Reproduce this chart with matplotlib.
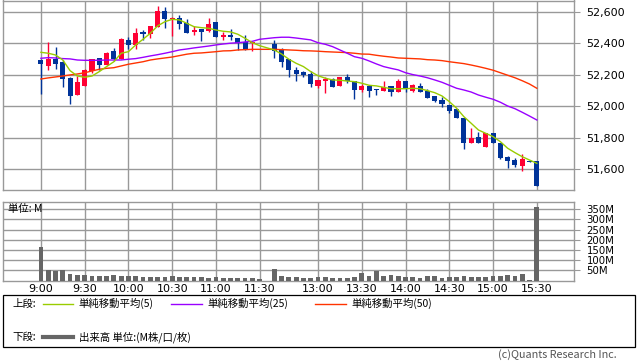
import numpy as np
import matplotlib
matplotlib.use('Agg')
import matplotlib.pyplot as plt
from matplotlib.lines import Line2D
from matplotlib.patches import Rectangle

plt.rcParams['font.family'] = ['Noto Sans CJK JP', 'DejaVu Sans']

# 5分足 (index 30 = 11:30 前引け, 31 = 昼休みの空き枠)
opens = [52294, 52258, 52299, 52282, 52180, 52071, 52131, 52224, 52305, 52264,
         52352, 52301, 52422, 52388, 52473, 52462, 52504, 52606, 52555, 52560,
         52532, 52475, 52492, 52479, 52536, 52439, 52455, 52436, 52407, 52403,
         None, None,
         52396, 52358, 52301, 52231, 52220, 52205, 52131, 52162, 52173, 52131,
         52184, 52160, 52103, 52131, 52112, 52099, 52129, 52092, 52160, 52099,
         52129, 52097, 52065, 52041, 52009, 51980, 51927, 51767, 51804, 51740,
         51830, 51767, 51674, 51657, 51621, 51653, 51651]
highs = [52300, 52409, 52377, 52294, 52188, 52192, 52237, 52299, 52305, 52345,
         52373, 52436, 52439, 52500, 52485, 52511, 52638, 52634, 52566, 52583,
         52558, 52511, 52492, 52562, 52536, 52475, 52492, 52436, 52455, 52411,
         None, None,
         52422, 52369, 52301, 52248, 52226, 52222, 52167, 52184, 52180, 52186,
         52205, 52160, 52141, 52131, 52112, 52160, 52129, 52173, 52160, 52141,
         52146, 52109, 52065, 52057, 52009, 51980, 51927, 51859, 51836, 51830,
         51830, 51767, 51683, 51668, 51696, 51655, 51651]
lows = [52078, 52231, 52239, 52124, 52016, 52068, 52129, 52211, 52231, 52260,
        52288, 52301, 52364, 52364, 52422, 52436, 52504, 52500, 52449, 52494,
        52468, 52455, 52417, 52473, 52443, 52424, 52424, 52358, 52360, 52354,
        None, None,
        52305, 52252, 52188, 52162, 52184, 52124, 52114, 52082, 52124, 52131,
        52146, 52046, 52090, 52057, 52069, 52099, 52067, 52092, 52092, 52088,
        52092, 52054, 52029, 51997, 51959, 51923, 51725, 51764, 51764, 51738,
        51764, 51664, 51608, 51615, 51589, 51645, 51494]
closes = [52269, 52303, 52269, 52173, 52067, 52154, 52231, 52299, 52264, 52339,
          52299, 52428, 52392, 52466, 52460, 52511, 52606, 52553, 52562, 52524,
          52468, 52485, 52473, 52524, 52443, 52455, 52439, 52403, 52360, 52405,
          None, None,
          52354, 52283, 52233, 52205, 52199, 52141, 52167, 52173, 52124, 52186,
          52160, 52103, 52131, 52099, 52103, 52120, 52090, 52162, 52109, 52137,
          52092, 52054, 52033, 52016, 51969, 51923, 51767, 51800, 51764, 51827,
          51764, 51672, 51653, 51627, 51664, 51647, 51494]
volumes = [163, 51, 47, 51, 31, 26, 26, 21, 21, 21,
           26, 21, 21, 21, 16, 16, 16, 16, 21, 16,
           16, 16, 16, 11, 16, 11, 11, 11, 11, 11,
           6, None,
           56, 21, 16, 15, 10, 10, 16, 16, 11, 11,
           10, 16, 36, 21, 47, 21, 26, 21, 16, 16,
           11, 21, 21, 11, 16, 16, 21, 16, 16, 16,
           21, 21, 26, 21, 31, 2, 361]

# 移動平均 (前日分を含むので画像から読み取り)
ma5 = [52343, 52337, 52326, 52294, 52226, 52192, 52184, 52192, 52220, 52252,
       52283, 52337, 52347, 52390, 52426, 52464, 52511, 52538, 52553, 52549,
       52528, 52506, 52500, 52496, 52485, 52477, 52473, 52458, 52432, 52404,
       52385, None,
       52358, 52332, 52299, 52273, 52252, 52220, 52194, 52178, 52167, 52165,
       52160, 52156, 52146, 52133, 52129, 52120, 52111, 52111, 52111, 52114,
       52111, 52099, 52086, 52065, 52029, 51987, 51933, 51891, 51848, 51827,
       51806, 51774, 51732, 51704, 51678, 51657, 51636]
ma25 = [52305, 52309, 52307, 52303, 52301, 52294, 52292, 52292, 52292, 52294,
        52294, 52294, 52299, 52303, 52311, 52320, 52328, 52337, 52347, 52358,
        52364, 52371, 52377, 52383, 52390, 52396, 52401, 52404, 52409, 52413,
        52426, None,
        52436, 52439, 52439, 52434, 52428, 52422, 52404, 52394, 52379, 52358,
        52337, 52315, 52305, 52288, 52269, 52252, 52241, 52231, 52213, 52201,
        52192, 52181, 52167, 52152, 52133, 52114, 52103, 52090, 52071, 52057,
        52044, 52025, 52001, 51984, 51961, 51937, 51912]
ma50 = [52173, 52180, 52186, 52192, 52199, 52205, 52213, 52224, 52235, 52241,
        52245, 52256, 52267, 52275, 52283, 52294, 52301, 52307, 52313, 52322,
        52331, 52337, 52339, 52343, 52347, 52352, 52353, 52358, 52360, 52362,
        52362, None,
        52362, 52360, 52358, 52356, 52353, 52352, 52350, 52347, 52345, 52343,
        52341, 52337, 52332, 52331, 52324, 52318, 52313, 52307, 52305, 52303,
        52301, 52296, 52294, 52290, 52283, 52277, 52271, 52262, 52252, 52241,
        52229, 52213, 52197, 52181, 52162, 52141, 52114]

tick_pos = [0, 6, 12, 18, 24, 30, 38, 44, 50, 56, 62, 68]
tick_labels = ['9:00', '9:30', '10:00', '10:30', '11:00', '11:30',
               '13:00', '13:30', '14:00', '14:30', '15:00', '15:30']
price_ticks = [51600, 51800, 52000, 52200, 52400, 52600]
vol_ticks = [50, 100, 150, 200, 250, 300, 350]

UP = '#ff0033'
DOWN = '#003399'
GRID = '#999999'
NUMFONT = 'DejaVu Sans'

W, H = 638, 362
fig = plt.figure(figsize=(W / 100, H / 100), dpi=100)


def box(l, t, r, b):
    return [l / W, 1 - b / H, (r - l) / W, (b - t) / H]


o = np.array(opens, dtype=float)
h = np.array(highs, dtype=float)
lo = np.array(lows, dtype=float)
c = np.array(closes, dtype=float)
v = np.array(volumes, dtype=float)
x = np.arange(len(o))

# 上段: ローソク足 + 移動平均
ax = fig.add_axes(box(3, 0.5, 574, 190))
ax.set_axisbelow(True)
ok = ~np.isnan(o)
col = np.where(c >= o, UP, DOWN)[ok]
ax.vlines(x[ok], lo[ok], h[ok], colors=col, lw=1.0, zorder=2)
body_lo = np.minimum(o, c)[ok]
body_h = np.maximum(np.abs(c - o)[ok], 4)
ax.bar(x[ok], body_h, bottom=body_lo, width=0.7, color=col, zorder=3)

for vals, color in [(ma50, '#ff3300'), (ma25, '#9900ff'), (ma5, '#99cc00')]:
    y = np.array(vals, dtype=float)
    m = ~np.isnan(y)
    ax.plot(x[m], y[m], color=color, lw=1.0, zorder=4)

ax.set_xlim(-5.2, 73.1)
ax.set_ylim(51466, 52673)
ax.set_xticks(tick_pos)
ax.set_xticklabels([])
ax.set_yticks(price_ticks)
ax.set_yticklabels(['{:,}'.format(t) for t in price_ticks], family=NUMFONT)
ax.yaxis.tick_right()
ax.tick_params(axis='y', length=4, width=0.8, color=GRID, pad=5, labelsize=8)
ax.tick_params(axis='x', length=0)
ax.grid(True, color=GRID, lw=1.0)
for s in ax.spines.values():
    s.set_color(GRID)
    s.set_linewidth(1.0)

# 下段: 出来高
axv = fig.add_axes(box(3, 202, 574, 280.5))
axv.set_axisbelow(True)
vm = ~np.isnan(v)
axv.bar(x[vm], v[vm], width=0.65, color='#666666', zorder=3)
axv.set_xlim(-5.2, 73.1)
axv.set_ylim(0, 385)
axv.set_xticks(tick_pos)
axv.set_xticklabels(tick_labels, family=NUMFONT)
axv.set_yticks(vol_ticks)
axv.set_yticklabels(['{}M'.format(t) for t in vol_ticks], family=NUMFONT)
axv.yaxis.tick_right()
axv.tick_params(axis='y', length=4, width=0.8, color=GRID, pad=5, labelsize=7.3)
axv.tick_params(axis='x', length=0, pad=2.5, labelsize=8)
axv.grid(True, color=GRID, lw=1.0)
for s in axv.spines.values():
    s.set_color(GRID)
    s.set_linewidth(1.0)
axv.text(5 / 571, 0.91, '単位: M', transform=axv.transAxes, fontsize=7.5,
         va='center', ha='left')

# 凡例
fig.add_artist(Rectangle((3 / W, 1 - 346.5 / H), 632 / W, 52 / H,
                         transform=fig.transFigure, fill=False,
                         edgecolor='black', lw=0.9))
y1 = 1 - 303.5 / H
y2 = 1 - 337 / H
fig.text(12 / W, y1, '上段:', fontsize=7.5, va='center')
fig.text(12 / W, y2, '下段:', fontsize=7.5, va='center')
for x0, x1, color, label in [(43, 73, '#99cc00', '単純移動平均(5)'),
                             (171, 202, '#9900ff', '単純移動平均(25)'),
                             (315, 346, '#ff3300', '単純移動平均(50)')]:
    fig.add_artist(Line2D([x0 / W, x1 / W], [y1, y1], transform=fig.transFigure,
                          color=color, lw=1.0))
    fig.text((x1 + 5) / W, y1, label, fontsize=7.5, va='center')
fig.add_artist(Line2D([43 / W, 73 / W], [y2, y2], transform=fig.transFigure,
                      color='#666666', lw=3.0))
fig.text(79 / W, y2, '出来高 単位:(M株/口/枚)', fontsize=7.5, va='center')

fig.text(617 / W, 1 - 355 / H, '(c)Quants Research Inc.', fontsize=7.8,
         color='#555555', ha='right', va='center')

fig.savefig('out.png', dpi=100)
